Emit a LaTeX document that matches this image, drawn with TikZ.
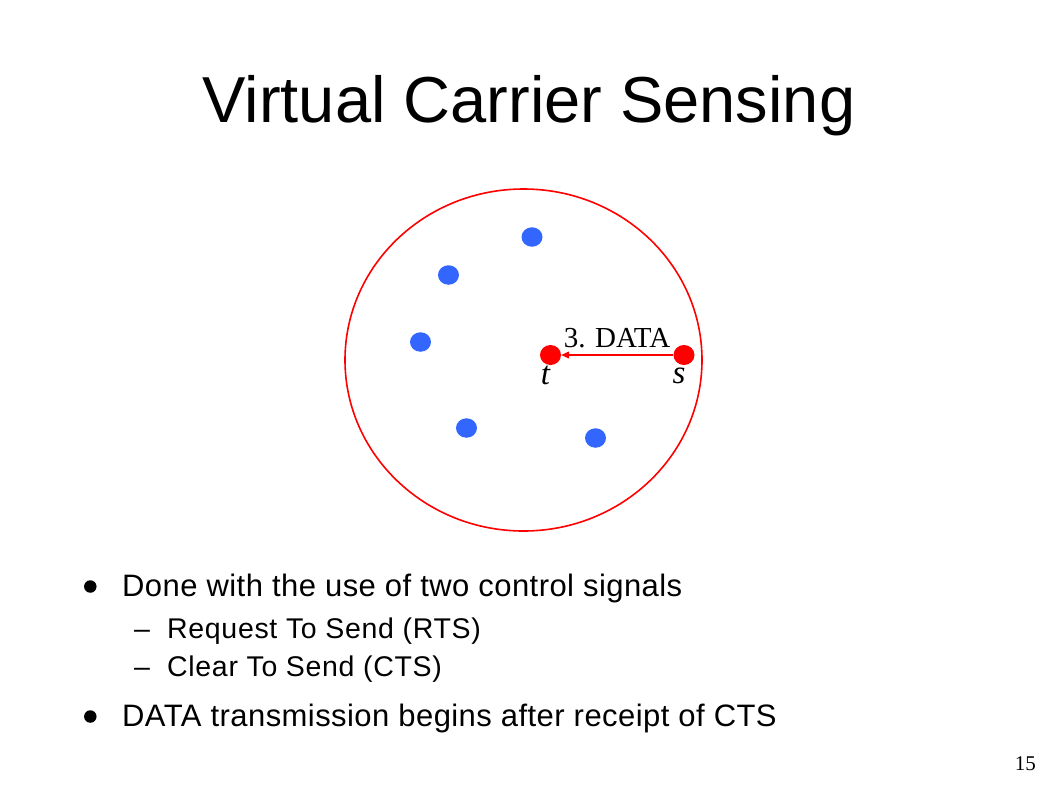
\documentclass[tikz,border=0pt]{standalone}
\usepackage{fontspec}
\setmainfont{Liberation Serif}
\setsansfont{Liberation Sans}
\newfontfamily\bodysans[LetterSpace=1.4]{Liberation Sans}
\newfontfamily\subsans[LetterSpace=2.4]{Liberation Sans}
\usetikzlibrary{arrows.meta,shapes.geometric}
\definecolor{dotblue}{RGB}{51,102,255}
\definecolor{netred}{RGB}{255,0,0}
\tikzset{
  bluedot/.style={ellipse, fill=dotblue, minimum width=21pt, minimum height=19.5pt, inner sep=0pt},
  reddot/.style={ellipse, fill=netred, minimum width=21pt, minimum height=20pt, inner sep=0pt},
  bul/.style={circle, fill=black, minimum size=12.5pt, inner sep=0pt},
  mainitem/.style={anchor=base west, inner sep=0pt, font=\bodysans\fontsize{31}{34}\selectfont},
  subitem/.style={anchor=base west, inner sep=0pt, font=\subsans\fontsize{28.5}{32}\selectfont},
  lbl/.style={anchor=base, inner sep=0pt, font=\fontsize{33}{36}\selectfont\itshape}
}
\begin{document}
\begin{tikzpicture}[x=1pt,y=-1pt]
\useasboundingbox (0,0) rectangle (1058,793);
% title
\node[anchor=base, inner sep=0pt, font=\sffamily\fontsize{65}{72}\selectfont] (title) at (529,122) {Virtual Carrier Sensing};
% range circle
\draw[netred, line width=1.6pt] (523.5,360) ellipse [x radius=178.5, y radius=171];
% blue nodes
\node[bluedot] (b1) at (532,237) {};
\node[bluedot] (b2) at (448.5,275) {};
\node[bluedot] (b3) at (420.5,342) {};
\node[bluedot] (b4) at (466.5,428) {};
\node[bluedot] (b5) at (595.5,438) {};
% t and s
\node[reddot] (t) at (550.5,355) {};
\node[reddot] (s) at (684,355) {};
\draw[netred, line width=1.2pt, -{Triangle[length=8pt, width=7pt]}] (s) -- (t);
\node[anchor=base, inner sep=0pt, font=\fontsize{29}{32}\selectfont] (data) at (617,347) {3. DATA};
\node[lbl] (tl) at (545.5,384) {t};
\node[lbl] (sl) at (679,383) {s};
% bullets
\node[bul] (bu1) at (90.3,586.5) {};
\node[mainitem] (i1) at (122,596) {Done with the use of two control signals};
\node[subitem] (d1) at (134,638) {–};
\node[subitem] (i2) at (167,638) {Request To Send (RTS)};
\node[subitem] (d2) at (134,676) {–};
\node[subitem] (i3) at (167,676) {Clear To Send (CTS)};
\node[bul] (bu2) at (90.3,716.5) {};
\node[mainitem] (i4) at (122,726) {DATA transmission begins after receipt of CTS};
% page number
\node[anchor=base east, inner sep=0pt, font=\fontsize{21}{24}\selectfont] (pg) at (1036,770) {15};
\end{tikzpicture}
\end{document}
